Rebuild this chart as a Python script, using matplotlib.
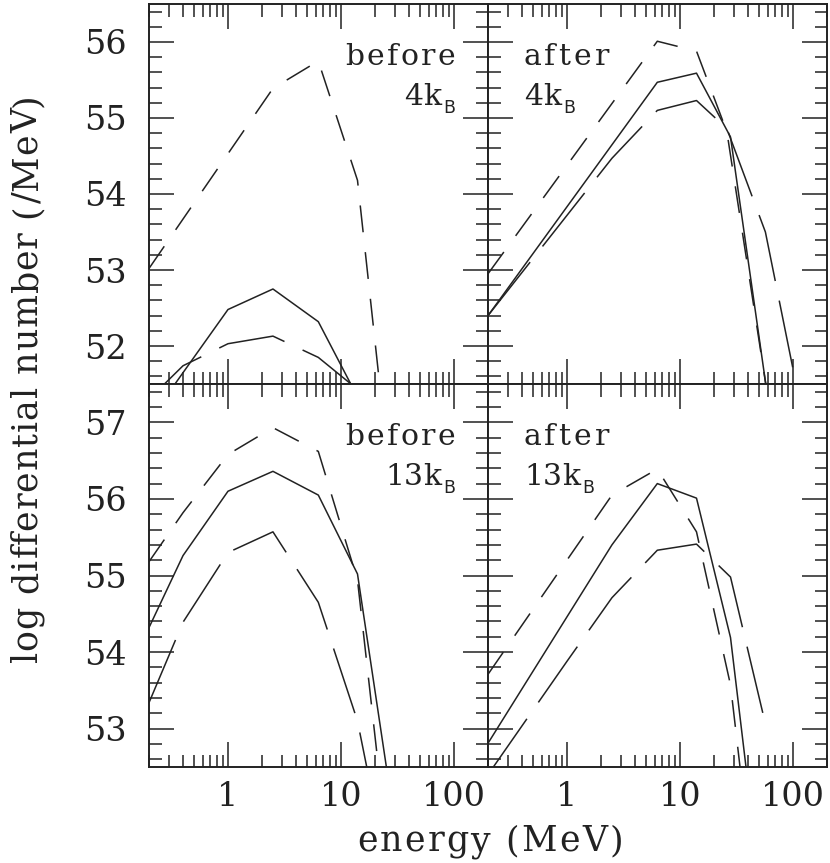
import matplotlib
matplotlib.use("Agg")
import matplotlib.pyplot as plt
from matplotlib.ticker import MultipleLocator, LogLocator, NullFormatter
from matplotlib.textpath import TextToPath
from matplotlib.font_manager import FontProperties

plt.rcParams['font.family'] = ['DejaVu Serif']
plt.rcParams['lines.scale_dashes'] = False

INK = '#222222'

# ---------------- data (energy in MeV, log differential number /MeV) ----------------
# before, 4 kB
tl_solid_E = [0.2, 1, 2.5, 6.3, 14]
tl_solid_v = [51.02, 52.48, 52.75, 52.32, 51.33]
tl_short_E = [0.2, 2.5, 6.3, 14, 26]
tl_short_v = [53.02, 55.39, 55.75, 54.18, 50.5]
tl_long_E = [0.2, 0.4, 1, 2.5, 6.3, 14]
tl_long_v = [51.30, 51.74, 52.03, 52.13, 51.85, 51.43]

# after, 4 kB
tr_solid_E = [0.2, 6.3, 14, 28, 63]
tr_solid_v = [52.40, 55.47, 55.59, 54.75, 51.08]
tr_short_E = [0.2, 6.3, 14, 26, 63]
tr_short_v = [52.95, 56.01, 55.88, 54.82, 51.11]
tr_long_E = [0.2, 2.5, 6.3, 14, 26, 57, 100]
tr_long_v = [52.40, 54.47, 55.10, 55.23, 54.86, 53.50, 51.70]

# before, 13 kB
bl_solid_E = [0.2, 0.4, 1, 2.5, 6.3, 14, 26]
bl_solid_v = [54.32, 55.26, 56.10, 56.36, 56.05, 55.02, 52.37]
bl_short_E = [0.2, 0.4, 1, 2.5, 6.3, 14, 26]
bl_short_v = [55.18, 55.82, 56.58, 56.93, 56.62, 54.94, 51.40]
bl_long_E = [0.2, 0.4, 1, 2.5, 6.3, 14, 26]
bl_long_v = [53.34, 54.39, 55.30, 55.57, 54.65, 53.10, 51.13]

# after, 13 kB
br_solid_E = [0.2, 2.5, 6.3, 14, 28, 40]
br_solid_v = [52.81, 55.40, 56.20, 56.01, 54.19, 52.28]
br_short_E = [0.2, 2.5, 6.3, 14, 28, 40]
br_short_v = [53.71, 56.05, 56.39, 55.57, 53.57, 51.60]
br_long_E = [0.2, 1, 2.5, 6.3, 14, 28, 57.7]
br_long_v = [52.40, 53.88, 54.71, 55.33, 55.41, 54.98, 53.03]

panel_words = ["before", "after", "before", "after"]
panel_temps = ["4", "4", "13", "13"]
x_tick_labels = ["1", "10", "100"]
x_ticks = [1, 10, 100]
top_ylim = (51.5, 56.5)
bot_ylim = (52.5, 57.5)
top_yticks = [52, 53, 54, 55, 56]
bot_yticks = [53, 54, 55, 56, 57]
xlabel = "energy (MeV)"
ylabel = "log differential number (/MeV)"

# ---------------- figure ----------------
W, H = 830, 863
DPI = 100
fig = plt.figure(figsize=(W / DPI, H / DPI), dpi=DPI)


def fx(px):
    return px / W


def fy(py):
    return 1 - py / H


_ttp = TextToPath()


def ink_w(s, prop):
    """ink width in pixels"""
    if not s.strip():
        return 0.0
    w, h, d = _ttp.get_text_width_height_descent(s, prop, ismath=False)
    return w * DPI / 72.0


def spaced_text(s, x0, y0, size, width=None, rotation=0, anchor='left',
                family='DejaVu Serif'):
    """Draw a string char by char with extra letter spacing so the ink spans `width` px.
    (x0, y0) in pixel coords (y downward). Returns the ink extent (start, end) along the line."""
    prop = FontProperties(family=family, size=size)
    n = len(s)
    natural = ink_w(s, prop)
    if width is None:
        width = natural
    track = (width - natural) / (n - 1) if n > 1 else 0.0
    total = natural + track * (n - 1)
    if anchor == 'left':
        start = 0.0
    elif anchor == 'right':
        start = -total
    else:
        start = -total / 2.0
    for i, ch in enumerate(s):
        if ch == ' ':
            continue
        left = ink_w(s[:i + 1], prop) - ink_w(ch, prop) + track * i + start
        if rotation == 0:
            px, py = x0 + left, y0
        else:
            px, py = x0, y0 - left
        fig.text(fx(px), fy(py), ch, fontsize=size, family=family, color=INK,
                 ha='left', va='baseline', rotation=rotation,
                 rotation_mode='anchor')
    return start, start + total


x_left = [149, 488]
pw = 339
rows = [(4, 384), (384, 767)]

SHORT = (0, (19.4, 14.4))
LONG = (0, (49, 14.4))
LW = 1.1

panels = [
    (tl_solid_E, tl_solid_v, tl_short_E, tl_short_v, tl_long_E, tl_long_v),
    (tr_solid_E, tr_solid_v, tr_short_E, tr_short_v, tr_long_E, tr_long_v),
    (bl_solid_E, bl_solid_v, bl_short_E, bl_short_v, bl_long_E, bl_long_v),
    (br_solid_E, br_solid_v, br_short_E, br_short_v, br_long_E, br_long_v),
]

PT = 21.5   # panel annotation font size
SUB = 12.5  # subscript size

for i, data in enumerate(panels):
    r, c = divmod(i, 2)
    top, bot = rows[r]
    ax = fig.add_axes([fx(x_left[c]), fy(bot), pw / W, (bot - top) / H])
    sE, sv, dE, dv, lE, lv = data
    ax.plot(sE, sv, color=INK, lw=LW)
    ax.plot(dE, dv, color=INK, lw=LW, linestyle=SHORT)
    ax.plot(lE, lv, color=INK, lw=LW, linestyle=LONG)

    ax.set_xscale('log')
    ax.set_xlim(0.2, 200)
    ax.set_ylim(*(top_ylim if r == 0 else bot_ylim))
    ax.set_xticks(x_ticks)
    ax.xaxis.set_minor_locator(LogLocator(base=10, subs=range(2, 10)))
    ax.xaxis.set_minor_formatter(NullFormatter())
    ax.set_yticks(top_yticks if r == 0 else bot_yticks)
    ax.yaxis.set_minor_locator(MultipleLocator(0.2))

    ax.tick_params(which='both', direction='in', top=True, right=True,
                   color=INK, labelcolor=INK, labelsize=24)
    ax.tick_params(which='major', length=18, width=1.1)
    ax.tick_params(which='minor', length=9, width=1.1)
    ax.tick_params(axis='y', pad=16)
    ax.tick_params(axis='x', pad=10)
    for s in ax.spines.values():
        s.set_linewidth(1.4)
        s.set_color(INK)

    if r == 1:
        ax.set_xticklabels(x_tick_labels)
    else:
        ax.set_xticklabels([])
    if c == 1:
        ax.set_yticklabels([])

    # panel annotation
    dy = top - 4
    word = panel_words[i]
    temp = panel_temps[i] + "k"
    subprop = FontProperties(family='DejaVu Sans', size=SUB)
    bw = ink_w("B", subprop)
    if c == 0:
        spaced_text(word, 455, 65 + dy, PT, 110, anchor='right')
        bx = 455 - bw
        spaced_text(temp, bx - 2, 105 + dy, PT, anchor='right')
    else:
        spaced_text(word, 523, 65 + dy, PT, 86, anchor='left')
        s0, s1 = spaced_text(temp, 524, 105 + dy, PT, anchor='left')
        bx = 524 + s1 + 2
    fig.text(fx(bx), fy(113 + dy), "B", fontsize=SUB, family='DejaVu Sans',
             color=INK, ha='left', va='baseline')

spaced_text(ylabel, 37, 662, 25, 569, rotation=90, anchor='left')
spaced_text(xlabel, 490, 851, 25, 266, anchor='center')

fig.savefig("out.png", dpi=DPI)
